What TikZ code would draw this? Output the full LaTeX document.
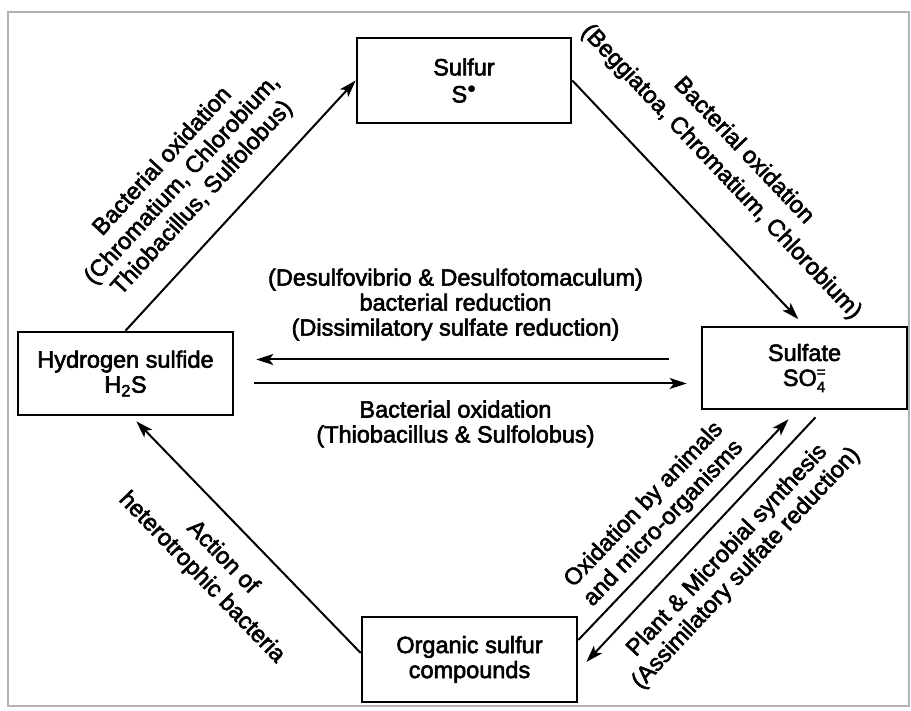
\documentclass[tikz,border=0pt]{standalone}
\usepackage{fontspec}
\setmainfont{Liberation Sans}[FakeBold=2.5]
\usepackage{tikz}
\usetikzlibrary{arrows.meta}

\begin{document}
\begin{tikzpicture}[x=1pt,y=-1pt,
    box/.style={draw,line width=2.6pt,align=center,minimum width=215pt,minimum height=84pt,
        font=\fontsize{23.5}{25}\selectfont},
    arr/.style={line width=2pt,-{Stealth[length=17pt,width=11pt,inset=4pt]}},
    lbl/.style={align=center,inner sep=4pt,font=\fontsize{23.5}{27}\selectfont}]
    \useasboundingbox (0,0) rectangle (911,711);
    % Frame
    \draw[gray!60,line width=1.2pt] (8,12) rectangle (909,706);

    % Compounds
    \node[box,minimum width=214pt,minimum height=85pt] (sulfur) at (464,80.5) {Sulfur\\[2pt]S$^{\bullet}$};
    \node[box,minimum width=205pt,minimum height=82pt] (sulfate) at (804.5,368) {Sulfate\\SO$^{\mbox{\fontsize{15}{15}\selectfont =}}_{\mbox{\fontsize{15}{15}\selectfont 4}}$};
    \node[box,minimum height=83pt] (hs) at (125.5,373.5) {Hydrogen sulfide\\H\textsubscript{2}S};
    \node[box,minimum height=85pt] (org) at (469.5,659.5) {Organic sulfur\\compounds};

    % Cycle
    \draw[arr] (hs.north) -- (sulfur.west)
        node[lbl,pos=0.44,sloped,above=17pt] {Bacterial oxidation\\(Chromatium, Chlorobium,\\Thiobacillus, Sulfolobus)};
    \draw[arr,shorten >=9pt] (sulfur.east) -- (sulfate.north)
        node[lbl,pos=0.5,sloped,above=29pt] {Bacterial oxidation\\[4pt](Beggiatoa, Chromatium, Chlorobium)};
    \coordinate (redR) at ([yshift=8.5pt]sulfate.west);
    \coordinate (oxR) at ([yshift=-15.5pt]sulfate.west);
    \draw[arr,shorten <=32pt,shorten >=22pt] (redR) -- (redR -| hs.east)
        node[lbl,midway,above=14pt,xshift=-12pt,font=\fontsize{23.5}{25}\selectfont] {(Desulfovibrio \& Desulfotomaculum)\\bacterial reduction\\(Dissimilatory sulfate reduction)};
    \draw[arr,shorten <=20pt,shorten >=14pt] (oxR -| hs.east) -- (oxR)
        node[lbl,midway,below=12pt,xshift=-12pt,font=\fontsize{23.5}{25}\selectfont] {Bacterial oxidation\\(Thiobacillus \& Sulfolobus)};
    \draw[arr,shorten >=7pt] ([yshift=6.5pt]org.west) -- ([xshift=6pt]hs.south)
        node[lbl,pos=0.5,sloped,below=17pt] {Action of\\[2pt]heterotrophic bacteria};
    \draw[arr] ([yshift=19.5pt]org.east) -- ([xshift=-16pt,yshift=-9pt]sulfate.south)
        node[lbl,pos=0.47,sloped,above=2.5pt] {Oxidation by animals\\and micro-organisms};
    \draw[arr] ([xshift=11pt,yshift=-7pt]sulfate.south) -- ([xshift=8pt,yshift=-2.5pt]org.east)
        node[lbl,pos=0.47,sloped,below=11pt] {Plant \& Microbial synthesis\\[-1pt](Assimilatory sulfate reduction)};
\end{tikzpicture}
\end{document}
